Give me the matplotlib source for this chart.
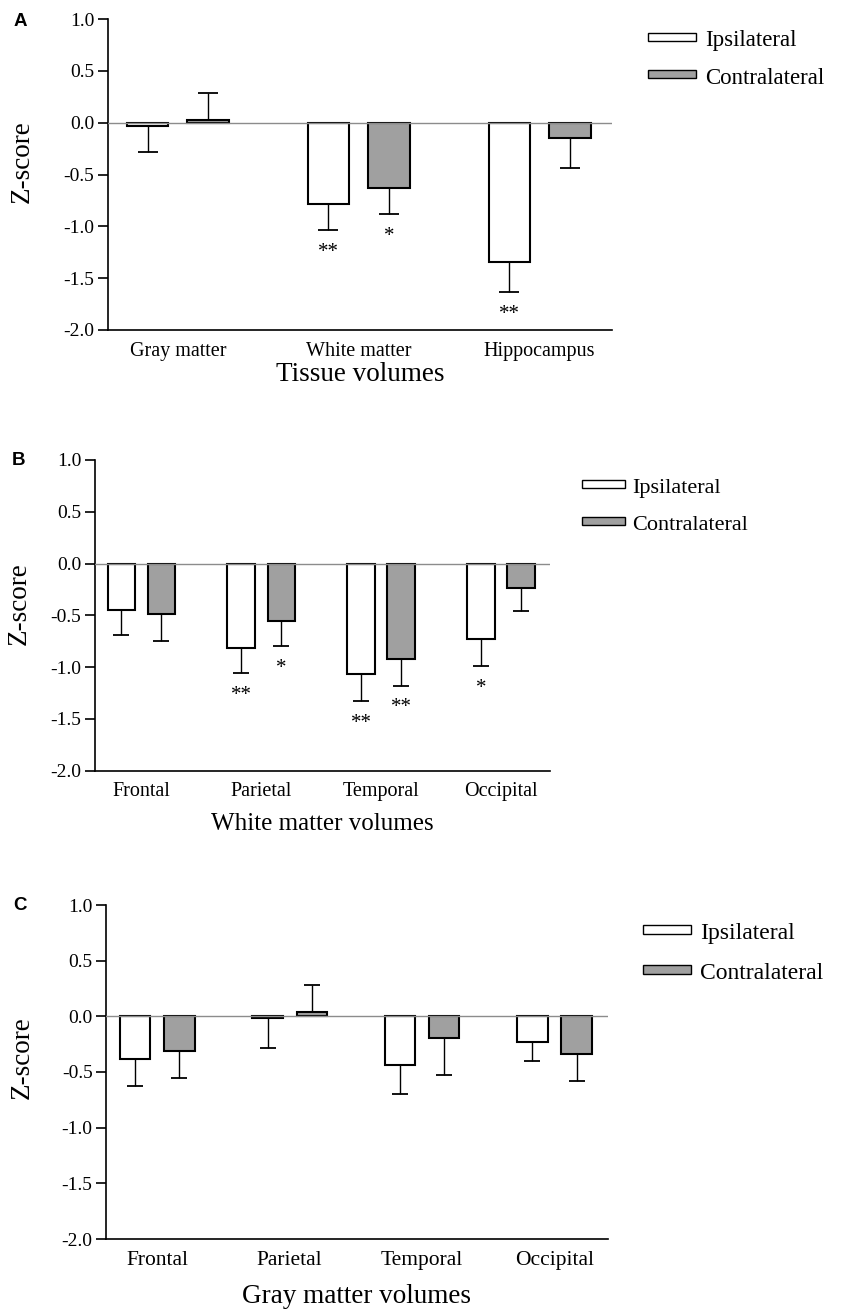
import matplotlib.pyplot as plt
import numpy as np
from matplotlib.patches import Rectangle

plt.rcParams['font.family'] = 'Liberation Serif'

W, H = 854, 1310

# panel A - tissue volumes
tissue = ['Gray matter', 'White matter', 'Hippocampus']
tissue_ipsi = [-0.03, -0.78, -1.34]
tissue_ipsi_err = [0.25, 0.255, 0.295]
tissue_contra = [0.025, -0.63, -0.148]
tissue_contra_err = [0.26, 0.255, 0.29]
tissue_ipsi_sig = ['', '**', '**']
tissue_contra_sig = ['', '*', '']

# panel B - white matter lobes
lobes = ['Frontal', 'Parietal', 'Temporal', 'Occipital']
wm_ipsi = [-0.454, -0.82, -1.07, -0.726]
wm_ipsi_err = [0.236, 0.24, 0.26, 0.264]
wm_contra = [-0.49, -0.56, -0.92, -0.24]
wm_contra_err = [0.26, 0.24, 0.26, 0.22]
wm_ipsi_sig = ['', '**', '**', '*']
wm_contra_sig = ['', '*', '**', '']

# panel C - gray matter lobes
gm_ipsi = [-0.383, -0.012, -0.44, -0.23]
gm_ipsi_err = [0.247, 0.268, 0.26, 0.17]
gm_contra = [-0.31, 0.036, -0.198, -0.335]
gm_contra_err = [0.24, 0.244, 0.332, 0.245]
gm_ipsi_sig = ['', '', '', '']
gm_contra_sig = ['', '', '', '']


def fig_rect(l, t, r, b):
    return [l / W, 1 - b / H, (r - l) / W, (b - t) / H]


def draw_legend(fig, x, y1, y2, bw, bh, gap, fs):
    for y, fc, lab in [(y1, 'white', 'Ipsilateral'), (y2, '#a0a0a0', 'Contralateral')]:
        fig.add_artist(Rectangle((x / W, 1 - (y + bh / 2) / H), bw / W, bh / H,
                                 transform=fig.transFigure, facecolor=fc,
                                 edgecolor='black', lw=1.0))
        fig.text((x + bw + gap) / W, 1 - (y + 9.5) / H, lab, ha='left',
                 va='baseline', fontsize=fs)


def panel(fig, rect, cats, ipsi, ipsi_err, contra, contra_err, ipsi_sig,
          contra_sig, xlabel, letter, letter_xy, xlim, ylab_x, ylab_y, xlab_y,
          cs, fs_cat, fs_xlab):
    ax = fig.add_axes(fig_rect(*rect))
    x = np.arange(len(cats))
    w = 0.23
    off = 0.167
    ax.bar(x - off, ipsi, w, color='white', edgecolor='black', lw=1.5, zorder=2)
    ax.bar(x + off, contra, w, color='#a0a0a0', edgecolor='black', lw=1.5, zorder=2)
    for pos, vals, errs, sig in [(x - off, ipsi, ipsi_err, ipsi_sig),
                                 (x + off, contra, contra_err, contra_sig)]:
        vals = np.array(vals)
        errs = np.array(errs)
        lower = np.where(vals < 0, errs, 0)
        upper = np.where(vals >= 0, errs, 0)
        ax.errorbar(pos, vals, yerr=[lower, upper], fmt='none', ecolor='black',
                    elinewidth=1.0, capsize=cs, capthick=1.3, zorder=1)
        for p, v, e, s in zip(pos, vals, errs, sig):
            if s:
                ax.annotate(s, (p, v - e), xytext=(0, -16), textcoords='offset points',
                            ha='center', va='center', fontsize=15)
    ax.axhline(0, color='#8c8c8c', lw=1.0, zorder=3)
    ax.set_xlim(*xlim)
    ax.set_ylim(-2, 1)
    ticks = np.arange(-2, 1.01, 0.5)
    ax.set_yticks(ticks)
    ax.set_yticklabels([f'{t:.1f}' for t in ticks])
    ax.set_xticks(x)
    ax.set_xticklabels(cats)
    for s in ['top', 'right']:
        ax.spines[s].set_visible(False)
    for s in ['left', 'bottom']:
        ax.spines[s].set_linewidth(1.2)
    ax.tick_params(axis='y', length=7, width=1.2, pad=3, labelsize=14)
    ax.tick_params(axis='x', length=0, pad=8.5, labelsize=fs_cat)
    ax.set_ylabel('Z-score', fontsize=19.5, va='center')
    ax.yaxis.set_label_coords(ylab_x, ylab_y)
    ax.set_xlabel(xlabel, fontsize=fs_xlab, va='center')
    ax.xaxis.set_label_coords(0.5, xlab_y)
    fig.text(letter_xy[0] / W, 1 - letter_xy[1] / H, letter, fontfamily='Liberation Sans',
             fontweight='bold', fontsize=13.5, ha='center', va='center')
    return ax


fig = plt.figure(figsize=(W / 100, H / 100), dpi=100)

panel(fig, (108.3, 19, 612, 330), tissue, tissue_ipsi, tissue_ipsi_err,
      tissue_contra, tissue_contra_err, tissue_ipsi_sig, tissue_contra_sig,
      'Tissue volumes', 'A', (20, 21), (-0.384, 2.4), -0.171, 0.541, -0.1415,
      7.5, 14.5, 19.5)
draw_legend(fig, 648, 36.7, 74, 48, 8, 9, 16.5)

panel(fig, (95, 460, 550, 770.5), lobes, wm_ipsi, wm_ipsi_err,
      wm_contra, wm_contra_err, wm_ipsi_sig, wm_contra_sig,
      'White matter volumes', 'B', (19, 461), (-0.387, 3.408), -0.166, 0.539, -0.172,
      5.5, 14.5, 18)
draw_legend(fig, 582, 484, 521, 43, 8, 7, 16)

panel(fig, (106.4, 905, 607.6, 1239), lobes, gm_ipsi, gm_ipsi_err,
      gm_contra, gm_contra_err, gm_ipsi_sig, gm_contra_sig,
      'Gray matter volumes', 'C', (20, 905), (-0.383, 3.4), -0.168, 0.543, -0.172,
      6, 15.5, 19.5)
draw_legend(fig, 643, 929.5, 969.5, 48, 8.5, 9, 17)

fig.savefig('out.png', dpi=100)
